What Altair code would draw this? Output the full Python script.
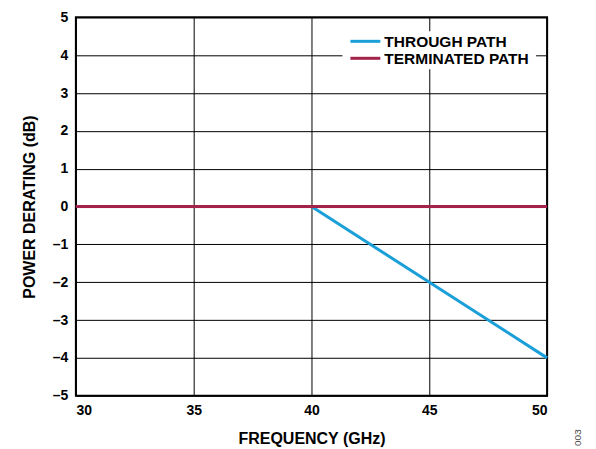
import altair as alt
import pandas as pd

series_names = ["THROUGH PATH", "TERMINATED PATH"]
series_colors = ["#1A9FD9", "#A3234B"]

through_freq = [30, 40, 50]
through_db = [0, 0, -4]
term_freq = [30, 50]
term_db = [0, 0]

x_ticks = [30, 35, 40, 45, 50]
y_ticks = [-5, -4, -3, -2, -1, 0, 1, 2, 3, 4, 5]

df_through = pd.DataFrame({"freq": through_freq, "db": through_db, "series": series_names[0]})
df_term = pd.DataFrame({"freq": term_freq, "db": term_db, "series": series_names[1]})

FONT = "Liberation Sans"
label_expr = "datum.value < 0 ? '\u2013' + abs(datum.value) : '' + datum.value"

x_enc = alt.X("freq:Q", scale=alt.Scale(domain=[30, 50], nice=False),
              axis=alt.Axis(values=x_ticks, title="FREQUENCY (GHz)", tickSize=0, labelPadding=8,
                            titlePadding=13, domain=False))
y_enc = alt.Y("db:Q", scale=alt.Scale(domain=[-5, 5], nice=False),
              axis=alt.Axis(values=y_ticks, title="POWER DERATING (dB)", tickSize=0, labelPadding=8,
                            titlePadding=15, labelExpr=label_expr, domain=False))
color_enc = alt.Color("series:N", scale=alt.Scale(domain=series_names, range=series_colors), legend=None)

# white backing box for the legend (covers grid lines behind it)
legend_box = alt.Chart(pd.DataFrame({"k": [0]})).mark_rect(color="white").encode(
    x=alt.value(267), x2=alt.value(461), y=alt.value(14), y2=alt.value(52))

legend_layers = []
for i, (name, col) in enumerate(zip(series_names, series_colors)):
    ypix = 24 + 17 * i
    d = pd.DataFrame({"series": [name]})
    legend_layers.append(alt.Chart(d).mark_rule(strokeWidth=3, color=col).encode(
        x=alt.value(275), x2=alt.value(305), y=alt.value(ypix)))
    legend_layers.append(alt.Chart(d).mark_text(
        font=FONT, fontSize=15.5, fontWeight="bold", color="black", align="left", baseline="middle"
    ).encode(x=alt.value(309), y=alt.value(ypix + 0.5), text="series:N"))

base_through = alt.Chart(df_through).mark_line(strokeWidth=3).encode(x=x_enc, y=y_enc, color=color_enc)
base_term = alt.Chart(df_term).mark_line(strokeWidth=3).encode(x=x_enc, y=y_enc, color=color_enc)

note = alt.Chart(pd.DataFrame({"t": ["003"]})).mark_text(
    angle=270, font=FONT, fontSize=10, color="#444", align="center", baseline="middle"
).encode(x=alt.value(503), y=alt.value(421), text="t:N")

chart = alt.layer(legend_box, base_through, base_term, *legend_layers, note).properties(
    width=472, height=379, padding={"left": 13, "top": 2, "right": 5, "bottom": 5}
).configure_view(stroke="black", strokeWidth=2).configure_axis(
    gridColor="black", gridWidth=1, gridOpacity=1,
    labelFont=FONT, labelFontSize=14, labelFontWeight="bold", labelColor="black",
    titleFont=FONT, titleFontSize=16, titleFontWeight="bold", titleColor="black"
)

chart.save("out.html", embed_options={"renderer": "svg", "actions": False})
